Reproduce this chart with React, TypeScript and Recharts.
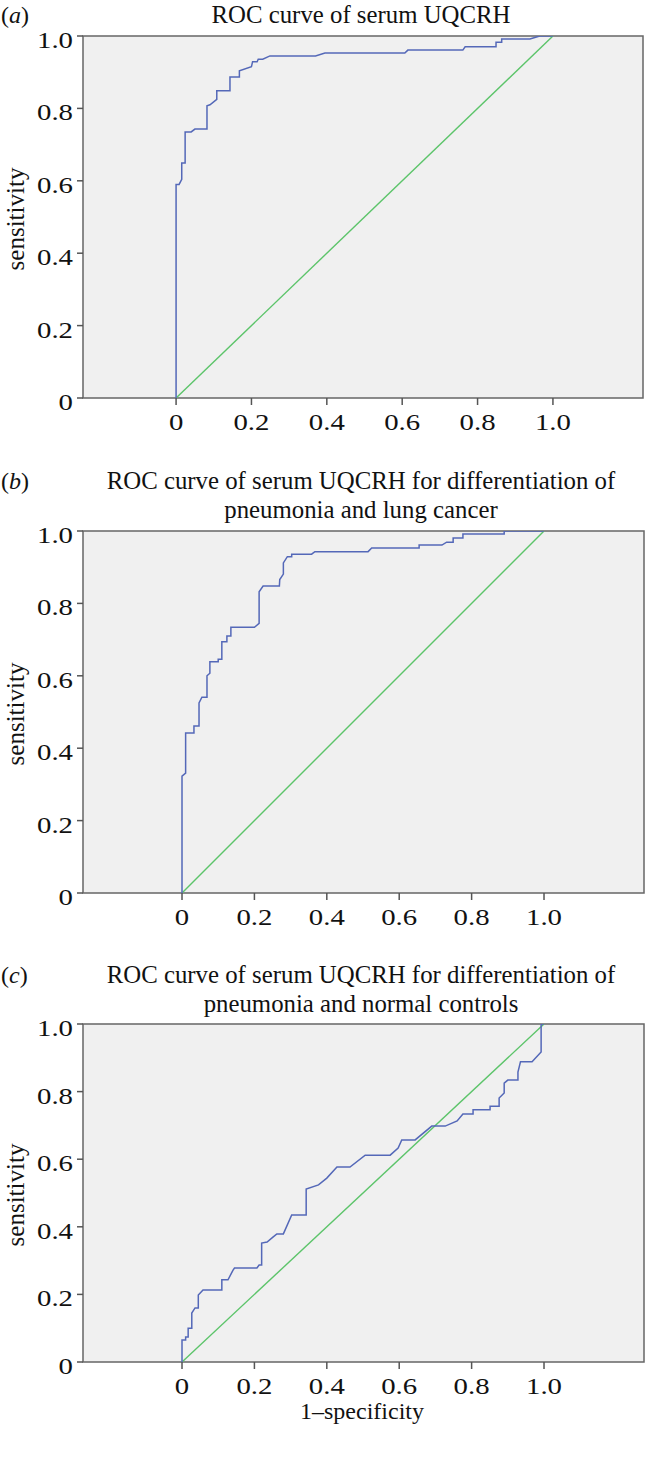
import React from 'react';
import { LineChart, Line, XAxis, YAxis, CartesianGrid, ReferenceArea } from 'recharts';

// Tick values
const xTicks = [0, 0.2, 0.4, 0.6, 0.8, 1.0];
const yTicks = [0, 0.2, 0.4, 0.6, 0.8, 1.0];

// Reference (chance) line
const refLine: [number, number][] = [[0, 0], [1, 1]];

// (a) ROC of serum UQCRH: [1-specificity, sensitivity]
const rocA: [number, number][] = [
  [0, 0], [0, 0.59], [0.008, 0.59], [0.015, 0.604], [0.015, 0.649], [0.024, 0.649], [0.024, 0.735],
  [0.04, 0.735], [0.05, 0.743], [0.082, 0.743], [0.082, 0.807], [0.09, 0.81], [0.108, 0.825],
  [0.108, 0.849], [0.143, 0.849], [0.143, 0.887], [0.168, 0.887], [0.168, 0.904], [0.2, 0.915],
  [0.203, 0.929], [0.215, 0.929], [0.218, 0.936], [0.23, 0.936], [0.249, 0.945], [0.37, 0.945],
  [0.395, 0.953], [0.607, 0.953], [0.615, 0.961], [0.761, 0.961], [0.767, 0.97], [0.849, 0.97],
  [0.849, 0.983], [0.864, 0.983], [0.864, 0.992], [0.939, 0.992], [0.965, 1.0], [1, 1],
];

// (b) pneumonia vs lung cancer
const rocB: [number, number][] = [
  [0, 0], [0, 0.323], [0.01, 0.331], [0.01, 0.442], [0.033, 0.442], [0.033, 0.461], [0.047, 0.461],
  [0.047, 0.525], [0.055, 0.541], [0.069, 0.541], [0.069, 0.6], [0.077, 0.607], [0.077, 0.639],
  [0.1, 0.639], [0.1, 0.646], [0.11, 0.646], [0.11, 0.694], [0.124, 0.694], [0.124, 0.71],
  [0.135, 0.71], [0.135, 0.734], [0.2, 0.734], [0.213, 0.745], [0.213, 0.832], [0.224, 0.848],
  [0.269, 0.848], [0.27, 0.866], [0.28, 0.881], [0.28, 0.912], [0.291, 0.929], [0.303, 0.929],
  [0.303, 0.936], [0.358, 0.936], [0.367, 0.943], [0.514, 0.943], [0.524, 0.953], [0.655, 0.953],
  [0.655, 0.961], [0.718, 0.961], [0.731, 0.969], [0.749, 0.969], [0.749, 0.981], [0.776, 0.981],
  [0.776, 0.992], [0.89, 0.992], [0.89, 1], [1, 1],
];

// (c) pneumonia vs normal controls
const rocC: [number, number][] = [
  [0, 0], [0, 0.065], [0.01, 0.065], [0.01, 0.074], [0.017, 0.074], [0.017, 0.1], [0.027, 0.1],
  [0.027, 0.145], [0.036, 0.16], [0.045, 0.16], [0.045, 0.198], [0.058, 0.213], [0.11, 0.213],
  [0.11, 0.243], [0.127, 0.243], [0.141, 0.272], [0.145, 0.278], [0.207, 0.278], [0.213, 0.287],
  [0.22, 0.287], [0.22, 0.352], [0.235, 0.355], [0.252, 0.37], [0.262, 0.379], [0.28, 0.379],
  [0.303, 0.435], [0.343, 0.435], [0.343, 0.512], [0.377, 0.524], [0.4, 0.544], [0.428, 0.577],
  [0.464, 0.577], [0.506, 0.612], [0.575, 0.612], [0.597, 0.633], [0.607, 0.657], [0.644, 0.657],
  [0.69, 0.698], [0.727, 0.698], [0.76, 0.713], [0.776, 0.734], [0.804, 0.734], [0.804, 0.746],
  [0.851, 0.746], [0.851, 0.757], [0.876, 0.757], [0.876, 0.781], [0.89, 0.796], [0.89, 0.825],
  [0.9, 0.834], [0.928, 0.834], [0.928, 0.858], [0.935, 0.888], [0.967, 0.888], [0.992, 0.917],
  [0.992, 1], [1, 1],
];

const FONT = '"Liberation Serif", "Times New Roman", Times, serif';
const TXT = '#111';
const BLUE = '#5468b8';
const GREEN = '#5cc46a';
const BORDER = '#666';

const toRows = (pts: [number, number][]) => pts.map(([x, y]) => ({ x, y }));
const fmt = (v: number) => (v === 0 ? '0' : v.toFixed(1));

const XTick = (props: any) => {
  const { x, y, payload } = props;
  return (
    <text
      x={0}
      y={0}
      transform={`translate(${x}, ${y + 23}) scale(1.2, 1)`}
      textAnchor="middle"
      fontFamily={FONT}
      fontSize={24}
      fill={TXT}
    >
      {fmt(payload.value)}
    </text>
  );
};

const YTick = (props: any) => {
  const { x, y, payload } = props;
  return (
    <text
      x={0}
      y={0}
      transform={`translate(${x}, ${y + 12}) scale(1.2, 1)`}
      textAnchor="end"
      fontFamily={FONT}
      fontSize={24}
      fill={TXT}
    >
      {fmt(payload.value)}
    </text>
  );
};

type PanelProps = {
  top: number;
  height: number;
  marginTop: number;
  marginRight: number;
  xAxisHeight: number;
  xDomain: [number, number];
  roc: [number, number][];
};

const Panel = ({ top, height, marginTop, marginRight, xAxisHeight, xDomain, roc }: PanelProps) => (
  <div style={{ position: 'absolute', top, left: 0 }}>
    <LineChart width={646} height={height} margin={{ top: marginTop, right: marginRight, bottom: 0, left: 0 }}>
      <CartesianGrid fill="#f0f0f0" horizontal={false} vertical={false} />
      <XAxis
        dataKey="x"
        type="number"
        domain={xDomain}
        allowDataOverflow
        ticks={xTicks}
        interval={0}
        height={xAxisHeight}
        axisLine={false}
        tickLine={{ stroke: '#555', strokeWidth: 1.5 }}
        tickSize={7}
        tickMargin={2}
        tick={<XTick />}
      />
      <YAxis
        type="number"
        domain={[0, 1]}
        allowDataOverflow
        ticks={yTicks}
        interval={0}
        width={83}
        axisLine={false}
        tickLine={{ stroke: '#555', strokeWidth: 1.5 }}
        tickSize={6}
        tickMargin={4}
        tick={<YTick />}
      />
      <Line data={toRows(refLine)} dataKey="y" type="linear" stroke={GREEN} strokeWidth={1.4} dot={false} activeDot={false} isAnimationActive={false} />
      <Line data={toRows(roc)} dataKey="y" type="linear" stroke={BLUE} strokeWidth={1.5} dot={false} activeDot={false} isAnimationActive={false} />
      <ReferenceArea x1={xDomain[0]} x2={xDomain[1]} y1={0} y2={1} fill="none" fillOpacity={0} stroke={BORDER} strokeWidth={1.5} ifOverflow="visible" />
    </LineChart>
  </div>
);

const PanelLetter = ({ y, letter }: { y: number; letter: string }) => (
  <text x={1} y={y} fontFamily={FONT} fontSize={24} fill={TXT}>
    (<tspan fontStyle="italic">{letter}</tspan>)
  </text>
);

const Title = ({ y, lines }: { y: number; lines: string[] }) => (
  <>
    {lines.map((l, i) => (
      <text key={i} x={361} y={y + i * 29} textAnchor="middle" fontFamily={FONT} fontSize={24.8} fill={TXT}>
        {l}
      </text>
    ))}
  </>
);

const SensLabel = ({ cy }: { cy: number }) => (
  <text x={0} y={0} transform={`translate(24, ${cy}) rotate(-90)`} textAnchor="middle" fontFamily={FONT} fontSize={25} fill={TXT}>
    sensitivity
  </text>
);

export default function App() {
  return (
    <div style={{ position: 'absolute', top: 0, left: 0, width: 646, height: 1460, background: '#fff', overflow: 'hidden' }}>
      <Panel top={0} height={442} marginTop={36} marginRight={3} xAxisHeight={44} xDomain={[-0.247, 1.239]} roc={rocA} />
      <Panel top={480} height={457} marginTop={51} marginRight={2} xAxisHeight={44} xDomain={[-0.2735, 1.2762]} roc={rocB} />
      <Panel top={950} height={482} marginTop={74} marginRight={2} xAxisHeight={70} xDomain={[-0.2735, 1.2762]} roc={rocC} />
      <svg width={646} height={1460} style={{ position: 'absolute', top: 0, left: 0, pointerEvents: 'none' }}>
        <PanelLetter y={23} letter="a" />
        <Title y={23} lines={['ROC curve of serum UQCRH']} />
        <SensLabel cy={219} />

        <PanelLetter y={489} letter="b" />
        <Title y={489} lines={['ROC curve of serum UQCRH for differentiation of', 'pneumonia and lung cancer']} />
        <SensLabel cy={714} />

        <PanelLetter y={983} letter="c" />
        <Title y={983} lines={['ROC curve of serum UQCRH for differentiation of', 'pneumonia and normal controls']} />
        <SensLabel cy={1195} />
        <text x={362} y={1419} textAnchor="middle" fontFamily={FONT} fontSize={24} fill={TXT}>
          1–specificity
        </text>
      </svg>
    </div>
  );
}
